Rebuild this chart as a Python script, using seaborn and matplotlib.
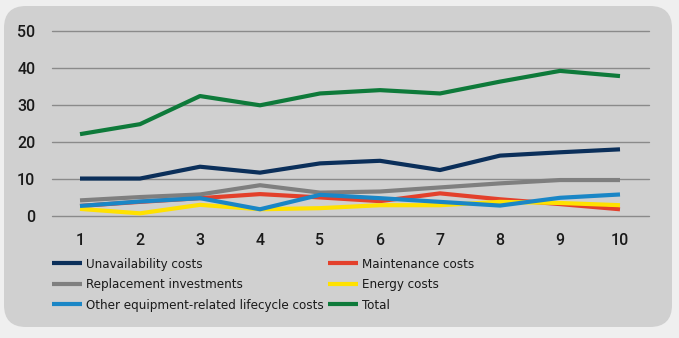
import matplotlib
matplotlib.use("Agg")
import matplotlib.pyplot as plt
from matplotlib.patches import FancyBboxPatch
from matplotlib.lines import Line2D
from matplotlib.transforms import IdentityTransform
from matplotlib import font_manager
import seaborn as sns
import pandas as pd

years = [1, 2, 3, 4, 5, 6, 7, 8, 9, 10]
unavailability = [10.2, 10.2, 13.4, 11.8, 14.3, 15.0, 12.5, 16.4, 17.3, 18.1]
maintenance = [2.8, 3.9, 4.9, 6.0, 5.1, 4.1, 6.2, 4.6, 3.3, 1.9]
replacement = [4.3, 5.2, 5.9, 8.4, 6.4, 6.7, 7.8, 8.9, 9.8, 9.8]
energy = [2.0, 0.8, 3.1, 1.9, 2.2, 3.0, 3.0, 3.9, 3.6, 3.0]
other = [2.8, 4.0, 4.9, 1.9, 5.8, 4.9, 3.9, 2.9, 5.0, 5.9]
total = [22.2, 24.9, 32.5, 30.0, 33.2, 34.1, 33.2, 36.4, 39.3, 37.9]

names = ["Unavailability costs", "Maintenance costs", "Replacement investments",
         "Energy costs", "Other equipment-related lifecycle costs", "Total"]
series = [unavailability, maintenance, replacement, energy, other, total]
colors = ["#0b2f5a", "#e3402b", "#7f7f7f", "#ffe100", "#1a86c6", "#0e7a3a"]
palette = dict(zip(names, colors))

df = pd.DataFrame([
    {"year": y, "value": v, "series": n}
    for n, s in zip(names, series) for y, v in zip(years, s)
])

sns.set_theme(style="white")
plt.rcParams["font.family"] = ["Roboto", "DejaVu Sans"]

W, H = 679, 338
fig = plt.figure(figsize=(W / 100, H / 100), dpi=100, facecolor="#efefef")

panel = FancyBboxPatch((4, 11), 668, 321, boxstyle="round,pad=0,rounding_size=22",
                       transform=IdentityTransform(), facecolor="#d0d0d0",
                       edgecolor="none", zorder=-10)
fig.patches.append(panel)

ax = fig.add_axes([52 / W, 1 - 216.3 / H, (649 - 52) / W, (216.3 - 31.3) / H])
ax.set_facecolor("none")
ax.set_zorder(1)

sns.lineplot(data=df, x="year", y="value", hue="series", palette=palette,
             hue_order=names, linewidth=3.0, ax=ax, legend=False, zorder=3)
for ln in ax.lines:
    ln.set_clip_on(False)
    ln.set_solid_capstyle("butt")

ax.set_xlim(1 - 28 / 60, 10 + 29 / 60)
ax.set_ylim(0, 50)
ax.set_yticks([0, 10, 20, 30, 40, 50])
ax.set_xticks(years)
for yv in [0, 10, 20, 30, 40, 50]:
    ax.axhline(yv, color="#8a8a8a", linewidth=1.0, zorder=1, clip_on=False)
for s in ax.spines.values():
    s.set_visible(False)
ax.set_xlabel("")
ax.set_ylabel("")
ax.tick_params(axis="both", length=0, labelsize=11.5, labelcolor="#1a1a1a")
ax.tick_params(axis="y", pad=12)
ax.tick_params(axis="x", pad=12)
for lab in ax.get_xticklabels() + ax.get_yticklabels():
    lab.set_fontweight(500)

def handle(c):
    return Line2D([], [], color=c, linewidth=3.0, solid_capstyle="butt")

leg_font = font_manager.FontProperties(family=["DejaVu Sans"], stretch="condensed", size=9.5)
idx1 = [0, 2, 4]
idx2 = [1, 3, 5]
for idx, x0 in [(idx1, 52), (idx2, 328)]:
    leg = fig.legend([handle(colors[i]) for i in idx], [names[i] for i in idx],
                     loc="upper left", bbox_to_anchor=(x0 / W, 1 - 258 / H),
                     frameon=False, prop=leg_font, handlelength=2.3,
                     handletextpad=0.3, labelspacing=0.55, borderpad=0,
                     borderaxespad=0)
    for t in leg.get_texts():
        t.set_color("#1a1a1a")

fig.savefig("out.png", dpi=100, facecolor=fig.get_facecolor())
